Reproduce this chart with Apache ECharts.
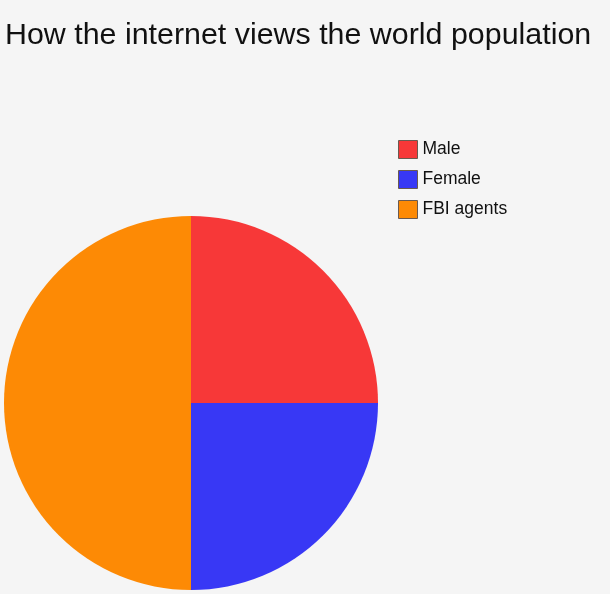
<!DOCTYPE html>
<html><head><meta charset="utf-8">
<script src="https://cdn.jsdelivr.net/npm/echarts@6/dist/echarts.min.js"></script>
<style>html,body{margin:0;padding:0;background:#f5f5f5;}#c{width:610px;height:594px;}</style>
</head><body><div id="c"></div>
<script>
const categories = ['Male', 'Female', 'FBI agents'];
const values = [25, 25, 50];
const colors = ['#f73838', '#3838f5', '#fd8a05'];
const chart = echarts.init(document.getElementById('c'));
chart.setOption({
  backgroundColor: '#f5f5f5',
  animation: false,
  title: {
    text: 'How the internet views the world population',
    left: 0, top: 16,
    textStyle: { fontFamily: 'Liberation Sans, Arial', fontSize: 30.4, fontWeight: 'normal', color: '#111' }
  },
  legend: {
    orient: 'vertical', left: 393, top: 135,
    itemWidth: 19, itemHeight: 18, itemGap: 11, icon: 'rect',
    textStyle: { fontFamily: 'Liberation Sans, Arial', fontSize: 17.5, color: '#111' },
    itemStyle: { borderColor: '#6a5a50', borderWidth: 1 },
    data: categories
  },
  series: [{
    type: 'pie', center: [191, 403], radius: 187, startAngle: 90, clockwise: true,
    label: { show: false }, labelLine: { show: false },
    emphasis: { disabled: true },
    data: categories.map((n, i) => ({ name: n, value: values[i], itemStyle: { color: colors[i] } }))
  }]
});
</script></body></html>
